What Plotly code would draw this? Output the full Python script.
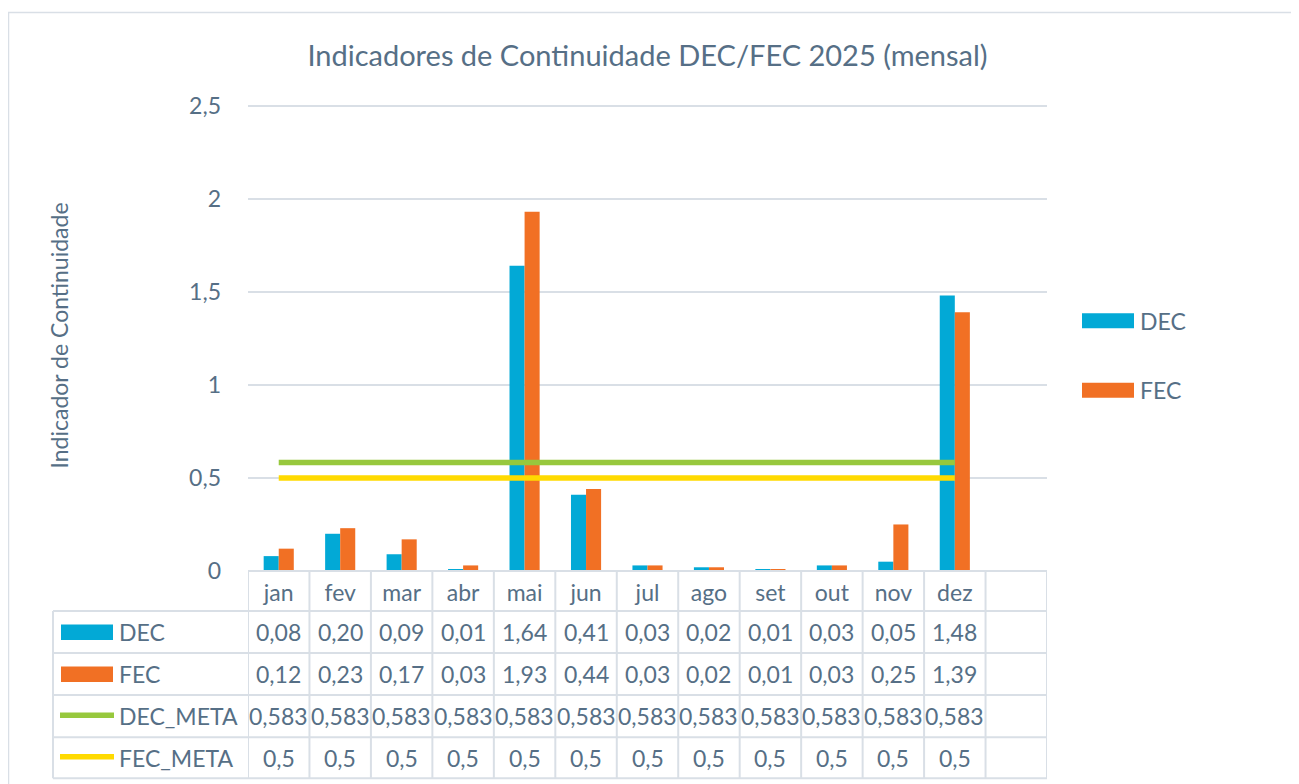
import plotly.graph_objects as go

# ---- data ----
months = ["jan", "fev", "mar", "abr", "mai", "jun", "jul", "ago", "set", "out", "nov", "dez"]
dec_values = [0.08, 0.20, 0.09, 0.01, 1.64, 0.41, 0.03, 0.02, 0.01, 0.03, 0.05, 1.48]
fec_values = [0.12, 0.23, 0.17, 0.03, 1.93, 0.44, 0.03, 0.02, 0.01, 0.03, 0.25, 1.39]
dec_meta = [0.583, 0.583, 0.583, 0.583, 0.583, 0.583, 0.583, 0.583, 0.583, 0.583, 0.583, 0.583]
fec_meta = [0.5, 0.5, 0.5, 0.5, 0.5, 0.5, 0.5, 0.5, 0.5, 0.5, 0.5, 0.5]
series_names = ["DEC", "FEC", "DEC_META", "FEC_META"]
y_ticks = [0, 0.5, 1, 1.5, 2, 2.5]
title_text = "Indicadores de Continuidade DEC/FEC 2025 (mensal)"
y_title = "Indicador de Continuidade"

# ---- style ----
OFF = 8  # page body margin
W, H = 1299 - OFF, 784 - OFF
L, R, T25, B = 248, 1047, 106, 571  # plot area in reference px (T25 = y of 2.5)
YTOP = 2.5
YMAX = 2.53
T = B - (B - T25) * YMAX / YTOP  # top of plot area (px)
FONT = "Lato"
TXT = "#566F86"
GRID = "#D9DFE6"
C_DEC = "#02A9D6"
C_FEC = "#F17024"
C_DM = "#97C83D"
C_FM = "#FFDA00"
FS = 23


def px_x(p):
    return (p - L) / (R - L)


def px_y(p):
    return (B - p) / (B - T)


fig = go.Figure()
fig.add_bar(x=months, y=dec_values, name=series_names[0], marker=dict(color=C_DEC, line=dict(width=0)))
fig.add_bar(x=months, y=fec_values, name=series_names[1], marker=dict(color=C_FEC, line=dict(width=0)))
fig.add_scatter(x=months, y=dec_meta, name=series_names[2], mode="lines",
                line=dict(color=C_DM, width=5.5))
fig.add_scatter(x=months, y=fec_meta, name=series_names[3], mode="lines",
                line=dict(color=C_FM, width=5.5))

shapes = []
annotations = []

# outer border
shapes.append(dict(type="rect", xref="paper", yref="paper",
                   x0=px_x(OFF + 0.5), x1=px_x(1295), y0=px_y(800), y1=px_y(13),
                   line=dict(color=GRID, width=1.5), fillcolor="rgba(0,0,0,0)", layer="below"))

# data table grid
row_lines = [611, 653, 695, 737, 778]
row_centers = [632, 674, 716, 757.5]
shapes.append(dict(type="line", xref="paper", yref="paper", x0=0, x1=1,
                   y0=px_y(B), y1=px_y(B), line=dict(color=GRID, width=2)))
for yl in row_lines:
    shapes.append(dict(type="line", xref="paper", yref="paper", x0=px_x(53), x1=1,
                       y0=px_y(yl), y1=px_y(yl), line=dict(color=GRID, width=2)))
for k in range(len(months) + 2):
    shapes.append(dict(type="line", xref="x", yref="paper", x0=k - 0.5, x1=k - 0.5,
                       y0=px_y(B), y1=px_y(778), line=dict(color=GRID, width=2)))
shapes.append(dict(type="line", xref="paper", yref="paper", x0=px_x(53), x1=px_x(53),
                   y0=px_y(611), y1=px_y(778), line=dict(color=GRID, width=2)))


def fmt2(v):
    return f"{v:.2f}".replace(".", ",")


def fmtg(v):
    return f"{v:g}".replace(".", ",")


table_rows = [(dec_values, fmt2), (fec_values, fmt2), (dec_meta, fmtg), (fec_meta, fmtg)]
for r, (vals, f) in enumerate(table_rows):
    yc = px_y(row_centers[r])
    for i, v in enumerate(vals):
        annotations.append(dict(x=months[i], xref="x", y=yc, yref="paper", text=f(v),
                                showarrow=False, xanchor="center", yanchor="middle",
                                font=dict(family=FONT, size=FS, color=TXT)))
    # legend keys in table
    if r < 2:
        shapes.append(dict(type="rect", xref="paper", yref="paper",
                           x0=px_x(61), x1=px_x(113),
                           y0=px_y(row_centers[r] + 8), y1=px_y(row_centers[r] - 7.5),
                           line=dict(width=0), fillcolor=[C_DEC, C_FEC][r]))
    else:
        shapes.append(dict(type="line", xref="paper", yref="paper",
                           x0=px_x(60), x1=px_x(114),
                           y0=px_y(row_centers[r] - 1), y1=px_y(row_centers[r] - 1),
                           line=dict(width=5.5, color=[C_DM, C_FM][r - 2])))
    annotations.append(dict(x=px_x(117), xref="paper", y=yc, yref="paper", text=series_names[r],
                            showarrow=False, xanchor="left", yanchor="middle",
                            font=dict(family=FONT, size=FS, color=TXT)))

# right legend
for j, (yc, col) in enumerate([(321, C_DEC), (390.5, C_FEC)]):
    shapes.append(dict(type="rect", xref="paper", yref="paper",
                       x0=px_x(1082), x1=px_x(1134), y0=px_y(yc + 7.5), y1=px_y(yc - 7.5),
                       line=dict(width=0), fillcolor=col))
    annotations.append(dict(x=px_x(1138), xref="paper", y=px_y(yc), yref="paper",
                            text=series_names[j], showarrow=False, xanchor="left", yanchor="middle",
                            font=dict(family=FONT, size=FS, color=TXT)))

fig.update_layout(
    width=W, height=H,
    margin=dict(l=L - OFF, r=W - (R - OFF), t=T - OFF, b=H - (B - OFF), pad=0),
    paper_bgcolor="white", plot_bgcolor="white",
    separators=",.",
    barmode="group", bargap=0.51, bargroupgap=0,
    showlegend=False,
    title=dict(text=title_text, x=0.5, xref="paper", xanchor="center",
               y=1 - (56 - OFF) / H, yref="container", yanchor="middle",
               font=dict(family=FONT, size=29, color=TXT)),
    font=dict(family=FONT, size=FS, color=TXT),
    xaxis=dict(type="category", categoryorder="array", categoryarray=months,
               range=[-0.5, len(months) + 0.5], showgrid=False, showline=False, zeroline=False,
               ticks="", ticklabelstandoff=6, tickfont=dict(family=FONT, size=FS, color=TXT)),
    yaxis=dict(range=[0, YMAX], tickvals=y_ticks, showgrid=True, gridcolor=GRID, gridwidth=2,
               zeroline=False, showline=False, ticks="", ticklabelstandoff=26,
               tickfont=dict(family=FONT, size=FS, color=TXT),
               title=dict(text=y_title, standoff=114, font=dict(family=FONT, size=FS, color=TXT))),
    shapes=shapes,
    annotations=annotations,
)

fig.write_html("out.html")
